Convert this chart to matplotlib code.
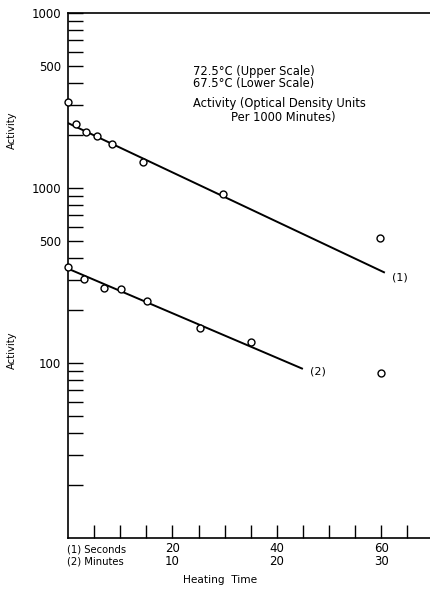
import numpy as np
import matplotlib
matplotlib.use("Agg")
from matplotlib import pyplot as plt

# (1) 72.5 C, time in seconds, activity on the upper scale
t1 = [0, 1.6, 3.5, 5.6, 8.5, 14.4, 29.7, 59.8]
a1 = [309, 233, 208, 199, 178, 141, 92, 52]
fit1_t = [0, 60.5]
fit1_a = [235, 33]

# (2) 67.5 C, time in minutes, activity on the lower scale
t2 = [0, 1.5, 3.45, 5.1, 7.6, 12.6, 17.5, 30.0]
a2 = [355, 303, 267, 264, 227, 158, 131, 88]
fit2_t = [0, 22.4]
fit2_a = [346, 93]

# axis is in seconds / lower-scale units
UPPER = 10.0
SEC_PER_MIN = 2.0

ytick_vals = [10000, 5000, 1000, 500, 100]
ytick_text = ["1000", "500", "1000", "500", "100"]
xtick_sec = [20, 40, 60]
xtick_min = [10, 20, 30]

plt.rcParams["font.family"] = "DejaVu Sans"

fig = plt.figure(figsize=(4.31, 5.89), dpi=100)
ax = fig.add_axes([68 / 431, 1 - 538 / 589, 1 - 68 / 431, (538 - 13) / 589])
ax.set_yscale("log")
ax.set_ylim(10, 10000)
ax.set_xlim(0, 69.5)

kw = dict(marker="o", ms=5, mfc="white", mec="black", mew=1.0, ls="none",
          clip_on=False, zorder=3)
ax.plot(t1, np.array(a1) * UPPER, **kw)
ax.plot(np.array(t2) * SEC_PER_MIN, a2, **kw)
ax.plot(fit1_t, np.array(fit1_a) * UPPER, color="black", lw=1.4, zorder=2)
ax.plot(np.array(fit2_t) * SEC_PER_MIN, fit2_a, color="black", lw=1.4,
        zorder=2)
ax.text(fit1_t[-1] + 1.5, fit1_a[-1] * UPPER * 0.93, "(1)", fontsize=8,
        va="center", ha="left")
ax.text(fit2_t[-1] * SEC_PER_MIN + 1.5, fit2_a[-1] * 0.96, "(2)", fontsize=8,
        va="center", ha="left")

# spines: left, top and bottom only
ax.spines["right"].set_visible(False)
for s in ["left", "top", "bottom"]:
    ax.spines[s].set_linewidth(1.2)

# y ticks: every 1-9 multiple per decade, only some labelled
yt = []
for dec in [10, 100, 1000]:
    yt += [dec * k for k in range(2, 11)]
ylab = [ytick_text[ytick_vals.index(v)] if v in ytick_vals else "" for v in yt]
ax.yaxis.set_minor_locator(matplotlib.ticker.NullLocator())
ax.set_yticks(yt, ylab)
ax.tick_params(axis="y", direction="in", length=11, width=1.0, pad=5,
               labelsize=8.5)

xt = list(range(5, 70, 5))
xlab = []
for v in xt:
    if v in xtick_sec:
        xlab.append(f"{v}\n{xtick_min[xtick_sec.index(v)]}")
    else:
        xlab.append("")
ax.set_xticks(xt, xlab)
ax.tick_params(axis="x", direction="in", length=9.5, width=1.0, pad=3,
               labelsize=8.5)
for lbl in ax.get_xticklabels():
    lbl.set_linespacing(0.95)

fig.text(67 / 431, 1 - 550 / 589, "(1) Seconds", fontsize=7.2, va="center")
fig.text(67 / 431, 1 - 562 / 589, "(2) Minutes", fontsize=7.2, va="center")
fig.text(183 / 431, 1 - 580 / 589, "Heating  Time", fontsize=7.6, va="center")
for yy in [130, 350]:
    fig.text(12 / 431, 1 - yy / 589, "Activity", fontsize=7.2, rotation=90,
             ha="center", va="center")

note = dict(fontsize=8.3, va="center")
fig.text(193 / 431, 1 - 71 / 589, "72.5°C (Upper Scale)", **note)
fig.text(193 / 431, 1 - 83 / 589, "67.5°C (Lower Scale)", **note)
fig.text(193 / 431, 1 - 104 / 589, "Activity (Optical Density Units", **note)
fig.text(231 / 431, 1 - 117 / 589, "Per 1000 Minutes)", **note)

fig.savefig("out.png", dpi=100)
